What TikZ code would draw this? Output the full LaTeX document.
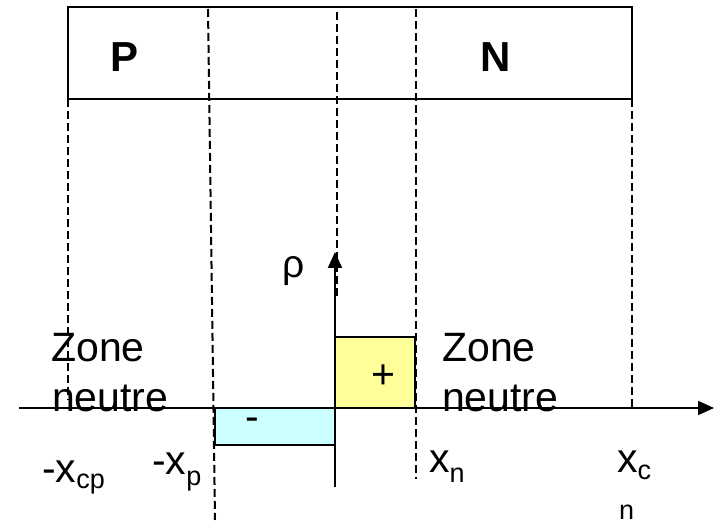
\documentclass[tikz,border=0pt]{standalone}
\usepackage{fontspec}
\setmainfont{Liberation Sans}
\usetikzlibrary{arrows.meta}
\definecolor{posfill}{HTML}{FFFF99}
\definecolor{negfill}{HTML}{CCFFFF}
\newcommand\mysub[2]{\raisebox{-#1}{\fontsize{27}{27}\selectfont #2}}
\tikzset{
  dashln/.style={black, line width=2pt, dash pattern=on 8pt off 4pt},
  solidln/.style={black, line width=2.2pt},
  axisln/.style={black, line width=2pt, -{Triangle[length=16pt,width=14pt]}},
  txt/.style={inner sep=0pt, font=\fontsize{41}{48}\selectfont, anchor=base west},
  boldtxt/.style={inner sep=0pt, font=\fontsize{42}{48}\selectfont\bfseries},
}
\begin{document}
\begin{tikzpicture}[x=1pt,y=-1pt]
\useasboundingbox (0,0) rectangle (716,529);
% coordinates
\coordinate (d1a) at (68,99);  \coordinate (d1b) at (68,400);
\coordinate (d2a) at (208,9);  \coordinate (d2b) at (215,520);
\coordinate (d3a) at (336.5,12); \coordinate (d3b) at (336.5,298);
\coordinate (d4a) at (416,9);  \coordinate (d4b) at (416,479);
\coordinate (d5a) at (632,99); \coordinate (d5b) at (632,408);
\coordinate (hx0) at (19,408); \coordinate (hx1) at (714,408);
\coordinate (vy0) at (335,487); \coordinate (vy1) at (335,252);
% dashed guide lines
\draw[dashln] (d1a) -- (d1b);
\draw[dashln] (d2a) -- (d2b);
\draw[dashln] (d3a) -- (d3b);
\draw[dashln] (d4a) -- (d4b);
\draw[dashln] (d5a) -- (d5b);
% junction box
\draw[solidln] (68,7) rectangle (632,99);
\node[boldtxt] (P) at (125,57) {P};
\node[boldtxt] (N) at (496,57) {N};
% charge blocks
\draw[solidln, fill=posfill] (335,337) rectangle (415,408);
\draw[solidln, fill=negfill] (215,408) rectangle (335,445);
% axes
\draw[axisln] (hx0) -- (hx1);
\draw[axisln] (vy0) -- (vy1);
% texts
\node[txt] (rho) at (282,278) {\fontsize{39}{40}\selectfont ρ};
\node[txt, anchor=center] (plus) at (383,377) {+};
\node[txt, anchor=center] (minus) at (252,424) {-};
\node[txt] (zl1) at (51,362) {Zone};
\node[txt] (zl2) at (52,412) {neutre};
\node[txt] (zr1) at (442,362) {Zone};
\node[txt] (zr2) at (442,412) {neutre};
\node[txt] (xcp) at (42,483) {-x\mysub{6pt}{cp}};
\node[txt] (xp) at (152,475) {-x\mysub{11pt}{p}};
\node[txt] (xn) at (429,473) {x\mysub{10pt}{n}};
\node[txt] (xc) at (617,473) {x\mysub{7pt}{c}};
\node[txt, font=\fontsize{27}{27}\selectfont] (xcn) at (619,520) {n};
\end{tikzpicture}
\end{document}
